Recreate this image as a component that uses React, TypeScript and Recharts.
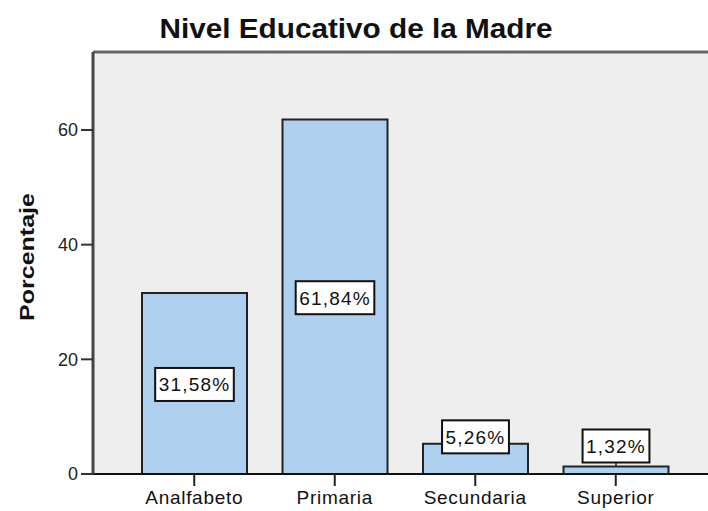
import React from "react";
import {
  BarChart,
  Bar,
  XAxis,
  YAxis,
  CartesianGrid,
  ReferenceLine,
  LabelList,
} from "recharts";

const categories = ["Analfabeto", "Primaria", "Secundaria", "Superior"];
const percentages = [31.58, 61.84, 5.26, 1.32];
const yTicks = [0, 20, 40, 60];
const yMax = 73.6;
const chartTitle = "Nivel Educativo de la Madre";
const yTitle = "Porcentaje";

const data = categories.map((c, i) => ({ name: c, value: percentages[i] }));

const FONT = "'Liberation Sans', Arial, Helvetica, sans-serif";

const fmt = (v: number) => v.toFixed(2).replace(".", ",") + "%";

const charW = (ch: string) => {
  if (ch === ",") return 0.278;
  if (ch === "%") return 0.889;
  return 0.556;
};

const LABEL_FS = 19;
const LABEL_LS = 1.2;

const BoxLabel = (props: any) => {
  const { x, y, width, height, value } = props;
  const xs = Number(x), ys = Number(y), w = Number(width), h = Number(height);
  const text = fmt(Number(value));
  const tw =
    text.split("").reduce((s, c) => s + charW(c) * LABEL_FS, 0) +
    LABEL_LS * text.length;
  const boxW = tw + 7;
  const boxH = 33;
  const cx = xs + w / 2;
  const base = ys + h;
  let cy = ys + h / 2 + 1;
  if (h < boxH + 8) cy = Math.min(ys - 7, base - 28);
  const boxBottom = cy + boxH / 2;
  return (
    <g>
      {boxBottom < ys && (
        <line x1={cx} x2={cx} y1={boxBottom} y2={ys} stroke="#222" strokeWidth={1.5} />
      )}
      <rect
        x={cx - boxW / 2}
        y={cy - boxH / 2}
        width={boxW}
        height={boxH}
        fill="#ffffff"
        stroke="#111"
        strokeWidth={2}
      />
      <text
        x={cx}
        y={cy + 7}
        textAnchor="middle"
        fontFamily={FONT}
        fontSize={LABEL_FS}
        letterSpacing={LABEL_LS}
        fill="#111"
      >
        {text}
      </text>
    </g>
  );
};

export default function App() {
  return (
    <div style={{ position: "absolute", left: 0, top: 0, width: 708, height: 511, background: "#fff" }}>
      <BarChart
        width={708}
        height={511}
        data={data}
        margin={{ top: 52, right: 0, bottom: 0, left: 0 }}
        style={{ fontFamily: FONT }}
      >
        <CartesianGrid fill="#eeeeee" stroke="none" horizontal={false} vertical={false} />
        <XAxis
          dataKey="name"
          height={37}
          padding={{ left: 31, right: 22 }}
          tickSize={12}
          tickMargin={5}
          axisLine={{ stroke: "#111", strokeWidth: 2 }}
          tickLine={{ stroke: "#222", strokeWidth: 2 }}
          tick={{ fontSize: 19, fill: "#111", fontFamily: FONT, letterSpacing: 0.7 }}
        />
        <YAxis
          width={93}
          domain={[0, yMax]}
          ticks={yTicks}
          allowDataOverflow
          tickSize={12}
          tickMargin={3}
          axisLine={{ stroke: "#444", strokeWidth: 3 }}
          tickLine={{ stroke: "#333", strokeWidth: 2 }}
          tick={{ fontSize: 18, fill: "#222", fontFamily: FONT }}
        />
        <ReferenceLine y={yMax} stroke="#666" strokeWidth={3} ifOverflow="extendDomain" />
        <Bar
          dataKey="value"
          fill="#aed0ee"
          stroke="#222"
          strokeWidth={2}
          barSize={105}
          isAnimationActive={false}
        >
          <LabelList dataKey="value" content={BoxLabel} />
        </Bar>
      </BarChart>
      <svg
        width={708}
        height={511}
        style={{ position: "absolute", left: 0, top: 0, pointerEvents: "none" }}
      >
        <text
          x={356}
          y={38}
          textAnchor="middle"
          fontFamily={FONT}
          fontSize={28}
          fontWeight="bold"
          fill="#111"
          textLength={393}
          lengthAdjust="spacingAndGlyphs"
        >
          {chartTitle}
        </text>
        <text
          x={34}
          y={257}
          transform="rotate(-90 34 257)"
          textAnchor="middle"
          fontFamily={FONT}
          fontSize={21}
          fontWeight="bold"
          fill="#111"
          textLength={128}
          lengthAdjust="spacingAndGlyphs"
        >
          {yTitle}
        </text>
      </svg>
    </div>
  );
}
